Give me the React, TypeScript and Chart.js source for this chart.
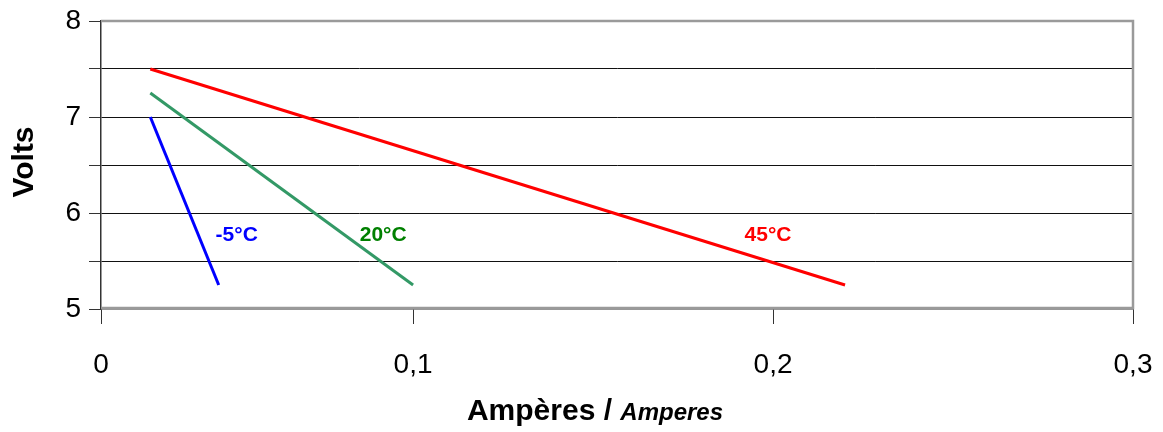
import { useEffect, useRef } from 'react';
import { Chart, registerables } from 'chart.js';

Chart.register(...registerables);

// ---- data ----
const seriesNames = ['-5°C', '20°C', '45°C'];
const seriesX = [
  [0.027, 0.046],
  [0.027, 0.1],
  [0.027, 0.22],
];
const seriesY = [
  [7.0, 5.25],
  [7.25, 5.25],
  [7.5, 5.25],
];
const labelX = [0.051, 0.0917, 0.1986];
const labelY = [5.77, 5.77, 5.77];
const lineColors = ['#0000ff', '#339966', '#ff0000'];
const labelColors = ['#0000ff', '#008000', '#ff0000'];

const xMin = 0.0133;
const xMax = 0.3;
const xTickValues = [0.0133, 0.1, 0.2, 0.3];
const xTickLabels = ['0', '0,1', '0,2', '0,3'];
const yMin = 5;
const yMax = 8;
const yTickValues = [5, 5.5, 6, 6.5, 7, 7.5, 8];
const yTickLabels = ['5', '', '6', '', '7', '', '8'];

const yTitle = 'Volts';
const xTitleMain = 'Ampères / ';
const xTitleSub = 'Amperes';

const FONT = '"Liberation Sans", Arial, sans-serif';

export default function App() {
  const ref = useRef<HTMLCanvasElement | null>(null);

  useEffect(() => {
    document.body.style.margin = '0';
    const canvas = ref.current;
    if (!canvas) return;

    const overlay = {
      id: 'overlay',
      afterDatasetsDraw(chart: any) {
        const { ctx, chartArea, scales } = chart;
        ctx.save();
        // plot-area border (gray)
        ctx.strokeStyle = '#9a9a9a';
        ctx.lineWidth = 2.5;
        ctx.beginPath();
        ctx.moveTo(chartArea.left, chartArea.top);
        ctx.lineTo(chartArea.right, chartArea.top);
        ctx.lineTo(chartArea.right, chartArea.bottom - 1);
        ctx.lineTo(chartArea.left, chartArea.bottom - 1);
        ctx.stroke();
        // series labels
        ctx.font = `bold 21px ${FONT}`;
        ctx.textAlign = 'center';
        ctx.textBaseline = 'middle';
        seriesNames.forEach((n, i) => {
          ctx.fillStyle = labelColors[i];
          ctx.fillText(n, scales.x.getPixelForValue(labelX[i]), scales.y.getPixelForValue(labelY[i]));
        });
        ctx.restore();
      },
      afterDraw(chart: any) {
        const { ctx, chartArea } = chart;
        ctx.save();
        ctx.fillStyle = '#000';
        // y title
        ctx.font = `bold 30px ${FONT}`;
        ctx.translate(25, (chartArea.top + chartArea.bottom) / 2 - 3);
        ctx.rotate(-Math.PI / 2);
        ctx.textAlign = 'center';
        ctx.textBaseline = 'middle';
        ctx.fillText(yTitle, 0, 0);
        ctx.restore();

        ctx.save();
        ctx.fillStyle = '#000';
        ctx.textBaseline = 'alphabetic';
        ctx.textAlign = 'left';
        ctx.font = `bold 30px ${FONT}`;
        const w1 = ctx.measureText(xTitleMain).width;
        ctx.font = `italic bold 24px ${FONT}`;
        const w2 = ctx.measureText(xTitleSub).width;
        const cx = 595;
        const x0 = cx - (w1 + w2) / 2;
        ctx.font = `bold 30px ${FONT}`;
        ctx.fillText(xTitleMain, x0, 420);
        ctx.font = `italic bold 24px ${FONT}`;
        ctx.fillText(xTitleSub, x0 + w1, 420);
        ctx.restore();
      },
    };

    const chart = new Chart(canvas, {
      type: 'line',
      data: {
        datasets: seriesNames.map((name, i) => ({
          label: name,
          data: seriesX[i].map((x, j) => ({ x, y: seriesY[i][j] })),
          borderColor: lineColors[i],
          backgroundColor: lineColors[i],
          borderWidth: 3,
          pointRadius: 0,
          fill: false,
          tension: 0,
        })),
      },
      options: {
        animation: false,
        responsive: true,
        maintainAspectRatio: false,
        layout: { padding: { top: 21, right: 30, left: 0, bottom: 0 } },
        plugins: {
          legend: { display: false },
          tooltip: { enabled: false },
          title: { display: false },
        },
        scales: {
          x: {
            type: 'linear',
            min: xMin,
            max: xMax,
            afterBuildTicks(scale: any) {
              scale.ticks = xTickValues.map((v) => ({ value: v }));
            },
            afterFit(scale: any) {
              scale.height = 123;
              scale.paddingLeft = 0;
              scale.paddingRight = 0;
            },
            ticks: {
              color: '#000',
              font: { family: FONT, size: 28 },
              padding: 24,
              maxRotation: 0,
              autoSkip: false,
              callback: (_v: any, idx: number) => xTickLabels[idx],
            },
            grid: {
              drawOnChartArea: false,
              drawTicks: true,
              tickLength: 15,
              tickColor: '#333',
              tickWidth: 1,
            },
            border: { display: true, color: '#333', width: 1.5 },
          },
          y: {
            type: 'linear',
            min: yMin,
            max: yMax,
            afterBuildTicks(scale: any) {
              scale.ticks = yTickValues.map((v) => ({ value: v }));
            },
            afterFit(scale: any) {
              scale.width = 101;
              scale.paddingTop = 0;
              scale.paddingBottom = 0;
            },
            ticks: {
              color: '#000',
              font: { family: FONT, size: 28 },
              padding: 8,
              autoSkip: false,
              callback: (_v: any, idx: number) => yTickLabels[idx],
            },
            grid: {
              drawOnChartArea: true,
              drawTicks: true,
              tickLength: 12,
              tickColor: '#333',
              color: (c: any) =>
                c.tick && (c.tick.value === yMax || c.tick.value === yMin) ? 'rgba(0,0,0,0)' : '#111',
              lineWidth: 1,
            },
            border: { display: true, color: '#333', width: 1.5 },
          },
        },
      },
      plugins: [overlay],
    } as any);

    return () => chart.destroy();
  }, []);

  return (
    <div style={{ position: 'relative', width: '1163px', height: '432px', background: '#fff' }}>
      <canvas ref={ref} />
    </div>
  );
}
